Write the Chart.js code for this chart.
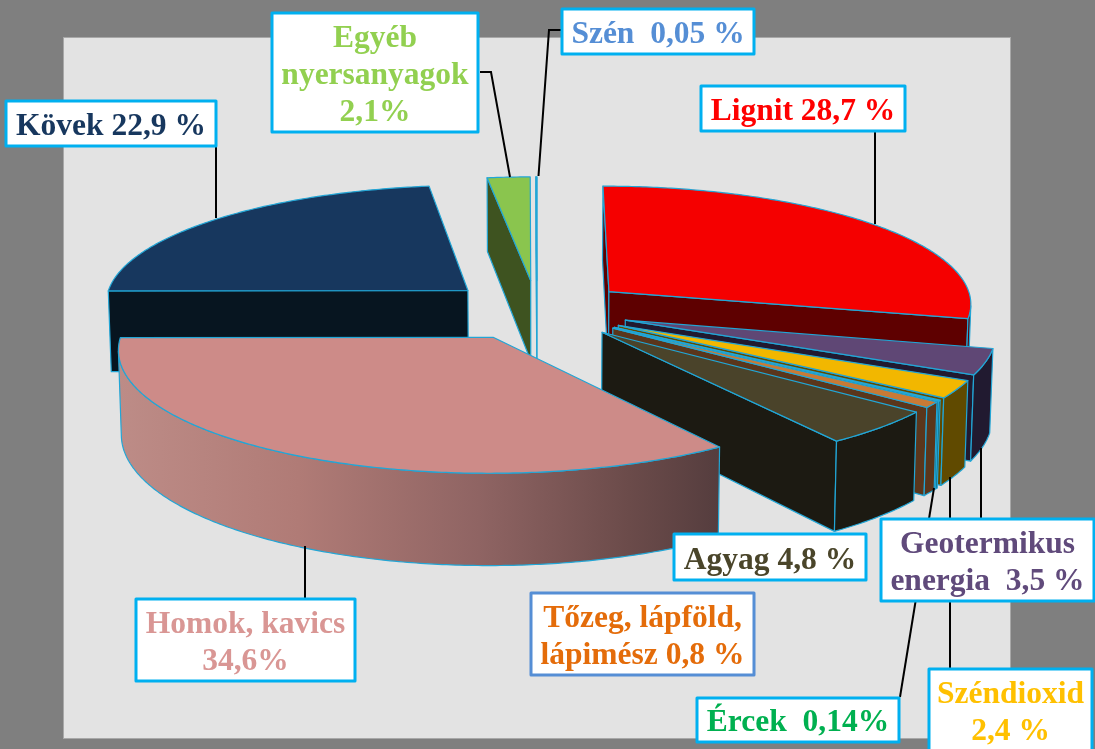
<!DOCTYPE html>
<html lang="hu">
<head>
<meta charset="utf-8">
<title>Nyersanyagok</title>
<script src="https://cdn.jsdelivr.net/npm/chart.js@4"></script>
<style>
html,body{margin:0;padding:0;background:#7f7f7f;overflow:hidden}
canvas{display:block}
</style>
</head>
<body>
<canvas id="c" width="1095" height="749"></canvas>
<script>
const categories = ['Lignit','Geotermikus energia','Széndioxid','Ércek','Tőzeg, lápföld, lápimész','Agyag','Homok, kavics','Kövek','Egyéb nyersanyagok','Szén'];
const values = [28.7,3.5,2.4,0.14,0.8,4.8,34.6,22.9,2.1,0.05];
const topColors = ['#f50000','#5f4775','#f2b700','#12a8c8','#c87a36','#4a432a','#cd8b88','#17375e','#8ac54e','#a9dcf3'];
const sideColors = ['#5e0000','#211a30','#604a00','#0a4a50','#5a361c','#1c1a12','#8f6463','#071520','#3e5320','#6fb6d8'];
const labelLines = [['Lignit 28,7 %'],['Geotermikus','energia  3,5 %'],['Széndioxid','2,4 %'],['Ércek  0,14%'],['Tőzeg, lápföld,','lápimész 0,8 %'],['Agyag 4,8 %'],['Homok, kavics','34,6%'],['Kövek 22,9 %'],['Egyéb','nyersanyagok','2,1%'],['Szén  0,05 %']];
const labelColors = ['#ff0000','#604a7b','#ffc000','#00b050','#e46c0a','#4a452a','#d99694','#17375e','#92d050','#558ed5'];

// layout of the annotation boxes: [x0, y0, x1, y1, first baseline]
const boxes = [[701,86,905,131,120],[881,519,1094,601,553],[929,669,1092,770,703],[697,698,899,742,731],[531,593,754,675,627],[674,534,866,580,569],[136,599,355,681,633],[6,101,216,146,135],[272,13,478,132,47],[562,9,754,54,43]];
const leaders = [[[875,132],[875,224]],[[981,448],[981,518]],[[950,477],[950,668]],[[934,488],[900,697]],null,null,[[305,546],[305,598]],[[216,147],[216,218]],[[480,72],[491,72],[510,177]],[[561,30],[549,30],[538.5,176]]];

const OUTLINE = '#22a6d6', TILT = 0.324, DEPTH = 82, PERSP = 4000, SAG = 0.993;

function project(a, u, v, h) {
  const s = 1 / (1 - v / PERSP);
  return [a.x + s * u * (h ? SAG : 1), a.y + TILT * v * s + DEPTH * s * h];
}
function poly(ctx, pts) {
  ctx.beginPath();
  pts.forEach((p, i) => i ? ctx.lineTo(p[0], p[1]) : ctx.moveTo(p[0], p[1]));
  ctx.closePath();
}
function area(q) {
  let t = 0;
  for (let i = 0; i < q.length; i++) {
    const n = q[(i + 1) % q.length];
    t += q[i][0] * n[1] - n[0] * q[i][1];
  }
  return t / 2;
}

const prism = {
  id: 'prism',
  beforeDraw(chart) {
    const ctx = chart.ctx;
    ctx.save();
    ctx.fillStyle = '#7f7f7f';
    ctx.fillRect(0, 0, chart.width, chart.height);
    ctx.fillStyle = '#e3e3e3';
    ctx.strokeStyle = '#a8a8a8';
    ctx.lineWidth = 1;
    ctx.fillRect(64, 38, 946, 700);
    ctx.strokeRect(63.5, 37.5, 947, 701);
    ctx.restore();
  },
  beforeDatasetsDraw(chart) {
    const ctx = chart.ctx;
    const arcs = chart.getDatasetMeta(0).data.map((a, i) => ({a, i}));
    const mid = o => (o.a.startAngle + o.a.endAngle) / 2;
    arcs.sort((p, q) => Math.sin(mid(p)) - Math.sin(mid(q)));
    ctx.save();
    ctx.lineJoin = 'round';
    ctx.lineWidth = 1.2;
    ctx.strokeStyle = OUTLINE;
    for (const o of arcs) {
      const a = o.a, m = mid(o), off = a.options.offset, R = a.outerRadius;
      const ox = Math.cos(m) * off, oy = Math.sin(m) * off;
      const n = Math.max(2, Math.ceil((a.endAngle - a.startAngle) * R / 4));
      const plane = [];
      for (let k = 0; k <= n; k++) {
        const t = a.startAngle + (a.endAngle - a.startAngle) * k / n;
        plane.push([ox + R * Math.cos(t), oy + R * Math.sin(t)]);
      }
      const top = plane.map(p => project(a, p[0], p[1], 0));
      const bot = plane.map(p => project(a, p[0], p[1], 1));
      const apexT = project(a, ox, oy, 0), apexB = project(a, ox, oy, 1);
      const wall = (p1, p2, b2, b1) => {
        const q = [p1, p2, b2, b1];
        if (area(q) < 0) {
          poly(ctx, q);
          ctx.fillStyle = sideColors[o.i];
          ctx.fill();
          ctx.stroke();
        }
      };
      wall(apexT, top[0], bot[0], apexB);
      wall(top[n], apexT, apexB, bot[n]);
      // curved rim: only the run of segments that face the viewer
      const runT = [], runB = [];
      for (let k = 0; k < n; k++) {
        if (area([top[k], top[k + 1], bot[k + 1], bot[k]]) < 0) {
          if (!runT.length) { runT.push(top[k]); runB.push(bot[k]); }
          runT.push(top[k + 1]); runB.push(bot[k + 1]);
        }
      }
      if (runT.length) {
        const shape = runT.concat(runB.slice().reverse());
        poly(ctx, shape);
        if (categories[o.i].startsWith('Homok')) {
          const xs = shape.map(p => p[0]);
          const g = ctx.createLinearGradient(Math.min(...xs), 0, Math.max(...xs), 0);
          g.addColorStop(0, '#bd8c87');
          g.addColorStop(0.3, '#b07b76');
          g.addColorStop(0.6, '#8f6463');
          g.addColorStop(0.85, '#6b4b4a');
          g.addColorStop(1, '#553d3e');
          ctx.fillStyle = g;
        } else {
          ctx.fillStyle = sideColors[o.i];
        }
        ctx.fill();
        ctx.stroke();
      }
      poly(ctx, [apexT].concat(top));
      ctx.fillStyle = a.options.backgroundColor;
      ctx.fill();
      ctx.stroke();
    }
    ctx.restore();

    // leaders and labels
    ctx.save();
    ctx.strokeStyle = '#000';
    ctx.lineWidth = 2;
    leaders.forEach(l => {
      if (!l) return;
      ctx.beginPath();
      l.forEach((p, i) => i ? ctx.lineTo(p[0], p[1]) : ctx.moveTo(p[0], p[1]));
      ctx.stroke();
    });
    ctx.font = 'bold 31.5px "Liberation Serif"';
    ctx.textAlign = 'center';
    ctx.textBaseline = 'alphabetic';
    ctx.lineJoin = 'round';
    boxes.forEach((b, i) => {
      ctx.fillStyle = '#fff';
      ctx.strokeStyle = categories[i].startsWith('Tőzeg') ? '#558ed5' : '#00b0f0';
      ctx.lineWidth = 3;
      ctx.fillRect(b[0], b[1], b[2] - b[0], b[3] - b[1]);
      ctx.strokeRect(b[0], b[1], b[2] - b[0], b[3] - b[1]);
      ctx.fillStyle = labelColors[i];
      const cx = (b[0] + b[2]) / 2;
      labelLines[i].forEach((t, k) => ctx.fillText(t, cx, b[4] + k * 37));
    });
    ctx.restore();
    return false;
  }
};

new Chart(document.getElementById('c'), {
  type: 'pie',
  data: {
    labels: categories,
    datasets: [{ data: values, backgroundColor: topColors, borderColor: OUTLINE, borderWidth: 1, offset: 93 }]
  },
  options: {
    responsive: false,
    animation: false,
    radius: 365,
    layout: { padding: { left: 0, top: 0, right: 21, bottom: 129 } },
    plugins: { legend: { display: false }, tooltip: { enabled: false } }
  },
  plugins: [prism]
});
</script>
</body>
</html>
